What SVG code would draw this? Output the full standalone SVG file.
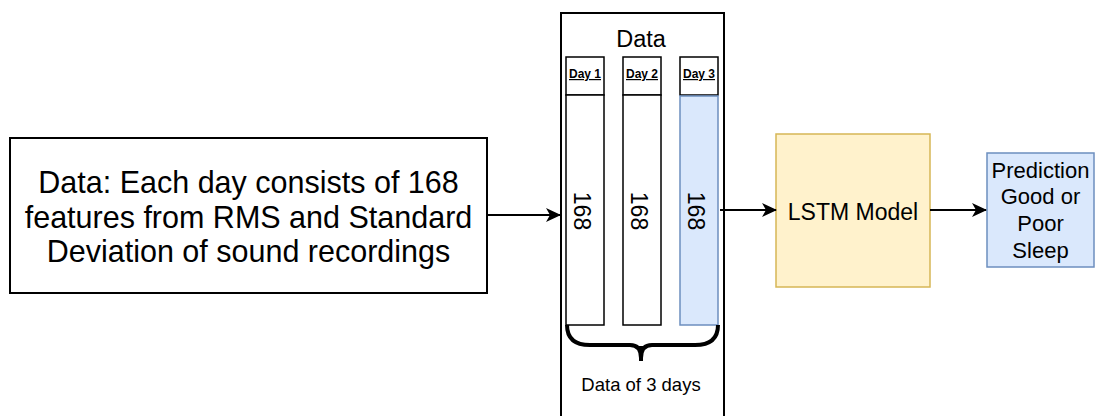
<svg xmlns="http://www.w3.org/2000/svg" width="1098" height="416" viewBox="0 0 1098 416">
<style>
text{font-family:"Liberation Sans",Arial,sans-serif;fill:#000}
.box{fill:#fff;stroke:#000;stroke-width:2}
.col{fill:#fff;stroke:#000;stroke-width:1.5}
.blue{fill:#dae8fc;stroke:#6c8ebf;stroke-width:1.5}
.day{font-size:12px;font-weight:bold;text-decoration:underline;text-anchor:middle}
.num{font-size:23px;text-anchor:middle}
.edge{fill:none;stroke:#000;stroke-width:2}
</style>
<defs>
<marker id="arr" viewBox="0 0 15 14" refX="14" refY="7" markerWidth="15" markerHeight="14" markerUnits="userSpaceOnUse" orient="auto">
<path d="M0,0 L15,7 L0,14 L4,7 Z" fill="#000"/>
</marker>
</defs>
<rect width="1098" height="416" fill="#fff"/>
<g id="input">
<rect class="box" x="10" y="138" width="477" height="155"/>
<text x="248.5" y="193" font-size="30.5" text-anchor="middle">Data: Each day consists of 168</text>
<text x="248.5" y="227.5" font-size="30.5" text-anchor="middle">features from RMS and Standard</text>
<text x="248.5" y="262" font-size="30.5" text-anchor="middle">Deviation of sound recordings</text>
</g>
<g id="data">
<rect class="box" x="561" y="13" width="163" height="410"/>
<text x="641" y="47" font-size="23.5" text-anchor="middle">Data</text>
</g>
<g id="day1">
<rect class="col" x="566" y="57" width="38" height="38"/>
<text class="day" x="585" y="78">Day 1</text>
<rect class="col" x="566" y="95" width="38" height="230"/>
<text class="num" transform="translate(585,211) rotate(90)" y="11">168</text>
</g>
<g id="day2">
<rect class="col" x="623" y="57" width="38" height="38"/>
<text class="day" x="642" y="78">Day 2</text>
<rect class="col" x="623" y="95" width="38" height="230"/>
<text class="num" transform="translate(642,211) rotate(90)" y="11">168</text>
</g>
<g id="day3">
<rect class="col" x="680" y="57" width="38" height="38"/>
<text class="day" x="699" y="78">Day 3</text>
<rect class="blue" x="680" y="96" width="38" height="229"/>
<text class="num" transform="translate(699,211) rotate(90)" y="11">168</text>
</g>
<g id="brace">
<path d="M567,325 Q567,345 590,345 L630,345 Q641,345 641,358 Q641,345 652,345 L695,345 Q718,345 718,325" fill="none" stroke="#000" stroke-width="4"/>
<path d="M641,346 L641,361" stroke="#000" stroke-width="4"/>
<text x="641" y="391" font-size="18.5" text-anchor="middle">Data of 3 days</text>
</g>
<g id="lstm">
<rect x="776" y="134" width="154" height="153" fill="#fff2cc" stroke="#d6b656" stroke-width="1.5"/>
<text x="853" y="220" font-size="23" text-anchor="middle">LSTM Model</text>
</g>
<g id="prediction">
<rect class="blue" x="987" y="153" width="107" height="114"/>
<text x="1040.5" y="178" font-size="22" text-anchor="middle">Prediction</text>
<text x="1040.5" y="204" font-size="22" text-anchor="middle">Good or</text>
<text x="1040.5" y="231" font-size="22" text-anchor="middle">Poor</text>
<text x="1040.5" y="258" font-size="22" text-anchor="middle">Sleep</text>
</g>
<g id="connectors">
<path class="edge" d="M487,215 L560,215" marker-end="url(#arr)"/>
<path class="edge" d="M720,210 L776,210" marker-end="url(#arr)"/>
<path class="edge" d="M930,210 L986,210" marker-end="url(#arr)"/>
</g>
</svg>
